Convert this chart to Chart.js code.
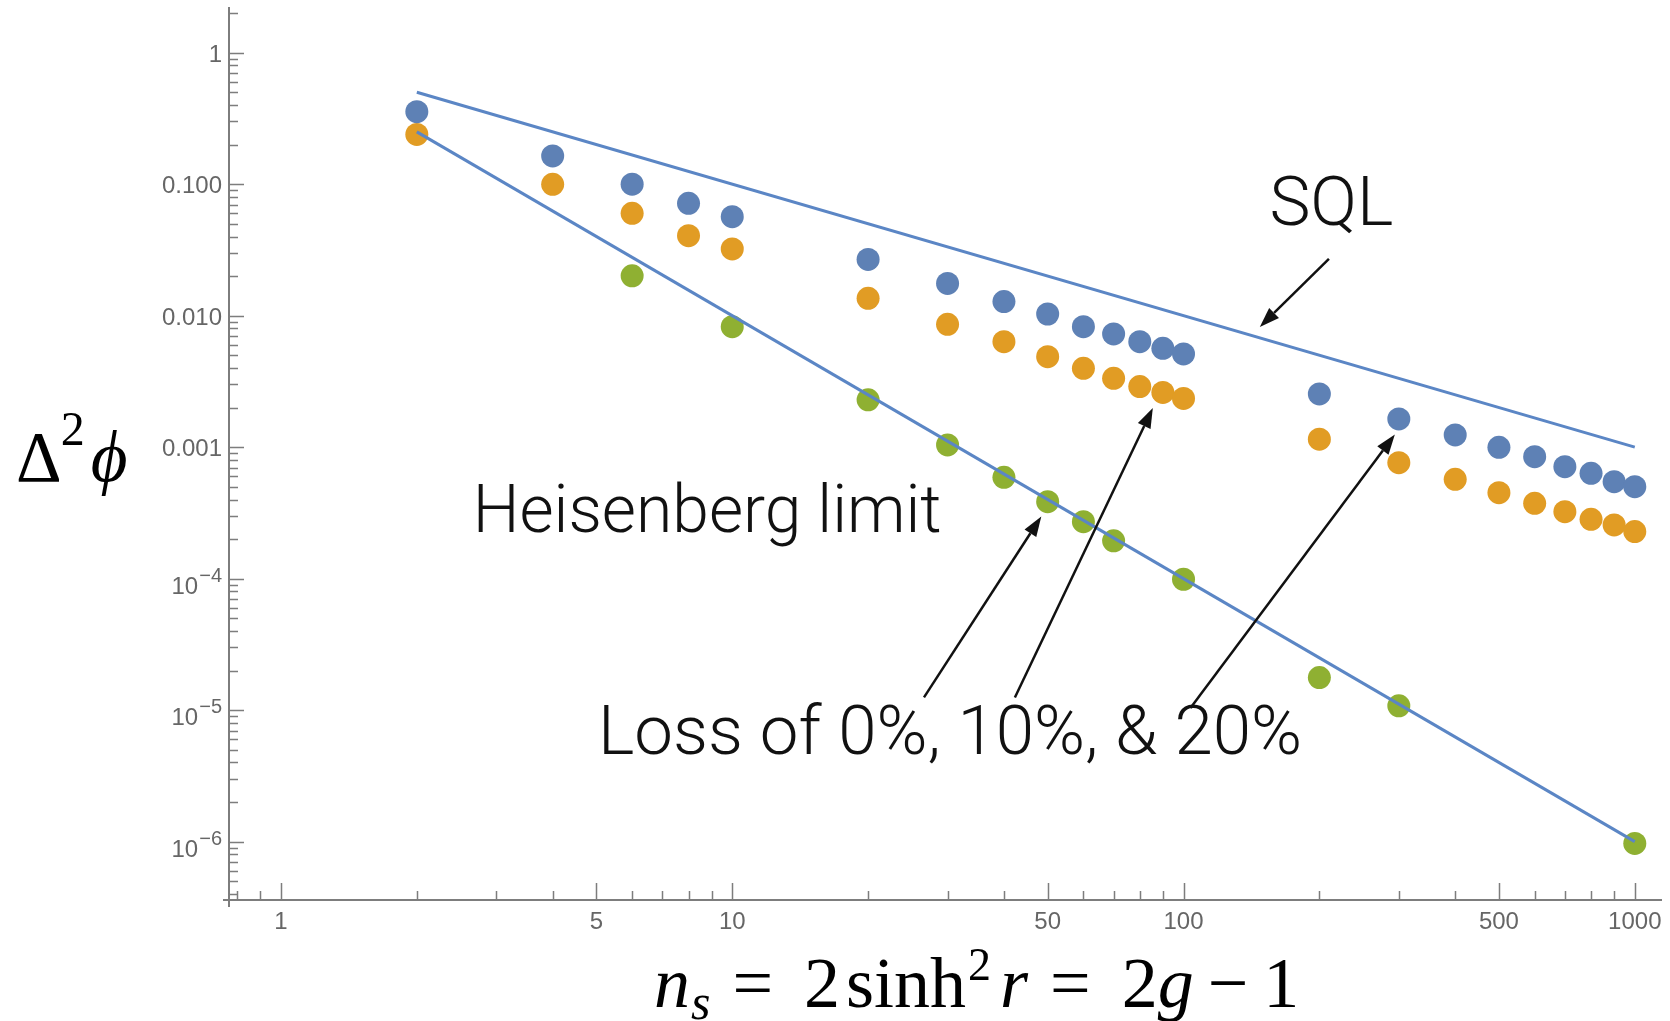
<!DOCTYPE html>
<html>
<head>
<meta charset="utf-8">
<title>Phase sensitivity vs squeezing</title>
<script src="https://cdn.jsdelivr.net/npm/chart.js@4.4.1/dist/chart.umd.min.js"></script>
<style>
  html, body { margin: 0; padding: 0; background: #fff; }
  #chart { display: block; }
</style>
</head>
<body>
<canvas id="chart" width="1670" height="1021"></canvas>
<script>
// photon number n_s for the lossy runs
let nLossy = [2, 4, 6, 8, 10, 20, 30, 40, 50, 60, 70, 80, 90, 100, 200, 300, 400, 500, 600, 700, 800, 900, 1000]
let loss20 = [0.356, 0.164, 0.100, 0.0716, 0.0566, 0.0268, 0.0176, 0.0128, 0.0103, 0.00825, 0.00726, 0.00634, 0.00565, 0.00512,
              0.00254, 0.00164, 0.00124, 0.000998, 0.000847, 0.000711, 0.000633, 0.000547, 0.000501]
let loss10 = [0.239, 0.0998, 0.0601, 0.0406, 0.0322, 0.01356, 0.0086, 0.00634, 0.00488, 0.00398, 0.00334, 0.00289, 0.00261, 0.00235,
              0.00115, 0.000762, 0.00057, 0.000451, 0.000374, 0.000323, 0.000283, 0.000256, 0.000228]
// lossless run only sampled at some n
let nLossless = [6, 10, 20, 30, 40, 50, 60, 70, 100, 200, 300, 1000]
let loss0 = [0.0201, 0.00825, 0.00229, 0.00104, 0.00059, 0.000385, 0.000271, 0.000194, 0.000099, 0.0000177, 0.0000108, 0.00000097]
// reference limits, 1/n and 1/n^2
let nLimit = [2, 1000]
let sqlLimit = [0.5, 0.001]
let heisenbergLimit = [0.25, 0.000001]

let xTicks = [1, 5, 10, 50, 100, 500, 1000]
let xTickLabels = ['1', '5', '10', '50', '100', '500', '1000']
let yTicks = [1, 0.1, 0.01, 0.001, 1e-4, 1e-5, 1e-6]
let yTickLabels = ['1', '0.100', '0.010', '0.001', '10', '10', '10']
let yTickPowers = ['', '', '', '', '−4', '−5', '−6']

// text notes and arrows, in data coordinates [n, value]
let notes = [
  { text: 'SQL', at: [155, 0.0492], size: 69 },
  { text: 'Heisenberg limit', at: [2.66, 2.25e-4], size: 66 },
  { text: 'Loss of 0%, 10%, & 20%', at: [5.04, 4.64e-6], size: 69 }
]
let arrows = [
  { from: [210, 0.027], to: [147.6, 0.0082] },
  { from: [26.6, 1.25e-5], to: [48.4, 2.97e-4] },
  { from: [42.3, 1.25e-5], to: [85.5, 0.00199] },
  { from: [103.6, 1.04e-5], to: [294, 0.00125] }
]

let blue = '#5e81b5', orange = '#e19c24', green = '#8fb032', lineBlue = '#5b86c5'
let axisGray = '#7d7d7d', labelGray = '#666'
let noteFamily = 'Roboto, "Liberation Sans", sans-serif'
let sans = '"Liberation Sans", Arial, sans-serif'
let serif = '"Liberation Serif", "DejaVu Serif", serif'

function pairs(xs, ys) {
  return xs.map((x, i) => ({ x: x, y: ys[i] }))
}

function minorTicks(min, max) {
  let out = []
  for (let e = -8; e <= 4; e++) {
    for (let k = 2; k <= 9; k++) {
      let v = k * Math.pow(10, e)
      if (v >= min && v <= max) out.push(v)
    }
  }
  return out
}

// runs of text with their own font, offset and extra gap before them
function drawRuns(ctx, x, y, runs) {
  runs.forEach(r => {
    x += r.gap || 0
    ctx.font = r.font
    ctx.fillText(r.text, x, y + (r.dy || 0))
    x += ctx.measureText(r.text).width
  })
}

function arrow(ctx, x1, y1, x2, y2) {
  let a = Math.atan2(y2 - y1, x2 - x1)
  let head = 20, half = 7
  let bx = x2 - head * Math.cos(a), by = y2 - head * Math.sin(a)
  ctx.beginPath()
  ctx.moveTo(x1, y1)
  ctx.lineTo(bx, by)
  ctx.stroke()
  ctx.beginPath()
  ctx.moveTo(x2, y2)
  ctx.lineTo(bx + half * Math.sin(a), by - half * Math.cos(a))
  ctx.lineTo(bx - half * Math.sin(a), by + half * Math.cos(a))
  ctx.closePath()
  ctx.fill()
}

// Mathematica-like axes: lines crossing at the corner, ticks pointing inward
let frameAxes = {
  id: 'frameAxes',
  beforeDatasetsDraw(chart) {
    let ctx = chart.ctx, area = chart.chartArea
    let sx = chart.scales.x, sy = chart.scales.y
    ctx.save()
    ctx.strokeStyle = axisGray
    ctx.lineWidth = 2
    ctx.beginPath()
    ctx.moveTo(area.left - 6, area.bottom)
    ctx.lineTo(area.right, area.bottom)
    ctx.moveTo(area.left, area.top)
    ctx.lineTo(area.left, area.bottom + 7)
    ctx.stroke()
    ctx.lineWidth = 1.5
    ctx.beginPath()
    let xMinor = minorTicks(sx.min, sx.max).filter(v => xTicks.indexOf(v) < 0)
    xMinor.forEach(v => {
      let p = Math.round(sx.getPixelForValue(v)) + 0.5
      ctx.moveTo(p, area.bottom)
      ctx.lineTo(p, area.bottom - 9)
    })
    xTicks.forEach(v => {
      let p = Math.round(sx.getPixelForValue(v)) + 0.5
      ctx.moveTo(p, area.bottom)
      ctx.lineTo(p, area.bottom - 17)
    })
    minorTicks(sy.min, sy.max).forEach(v => {
      let p = Math.round(sy.getPixelForValue(v)) + 0.5
      ctx.moveTo(area.left, p)
      ctx.lineTo(area.left + 9, p)
    })
    yTicks.forEach(v => {
      let p = Math.round(sy.getPixelForValue(v)) + 0.5
      ctx.moveTo(area.left, p)
      ctx.lineTo(area.left + 15, p)
    })
    ctx.stroke()

    // y tick labels, powers of ten get a real superscript
    ctx.fillStyle = labelGray
    ctx.textAlign = 'right'
    ctx.textBaseline = 'alphabetic'
    let right = area.left - 7
    yTicks.forEach((v, i) => {
      let p = sy.getPixelForValue(v)
      if (yTickPowers[i]) {
        ctx.font = '20px ' + sans
        ctx.fillText(yTickPowers[i], right, p + 3)
        let w = ctx.measureText(yTickPowers[i]).width
        ctx.font = '24px ' + sans
        ctx.fillText(yTickLabels[i], right - w - 1, p + 15)
      } else {
        ctx.font = '24px ' + sans
        ctx.fillText(yTickLabels[i], right, p + 9)
      }
    })
    ctx.restore()
  }
}

let notesPlugin = {
  id: 'notes',
  afterDatasetsDraw(chart) {
    let ctx = chart.ctx
    let sx = chart.scales.x, sy = chart.scales.y
    ctx.save()
    ctx.fillStyle = '#111'
    ctx.strokeStyle = '#111'
    ctx.lineWidth = 2.5
    ctx.textBaseline = 'alphabetic'
    notes.forEach(n => {
      ctx.font = '300 ' + n.size + 'px ' + noteFamily
      ctx.fillText(n.text, sx.getPixelForValue(n.at[0]), sy.getPixelForValue(n.at[1]))
    })
    arrows.forEach(a => {
      arrow(ctx, sx.getPixelForValue(a.from[0]), sy.getPixelForValue(a.from[1]),
                 sx.getPixelForValue(a.to[0]), sy.getPixelForValue(a.to[1]))
    })

    // axis titles
    ctx.fillStyle = '#000'
    let rm = '72px ' + serif, it = 'italic 72px ' + serif
    let rmSmall = '46px ' + serif, itSmall = 'italic 50px ' + serif
    drawRuns(ctx, 16, 481, [
      { text: 'Δ', font: '71px ' + serif },
      { text: '2', font: '48px ' + serif, dy: -36, gap: -1 },
      { text: 'ϕ', font: 'italic 71px ' + serif, gap: 6 }
    ])
    drawRuns(ctx, 654, 1007, [
      { text: 'n', font: it },
      { text: 's', font: itSmall, dy: 12, gap: 1 },
      { text: '=', font: rm, gap: 22 },
      { text: '2', font: rm, gap: 31 },
      { text: 'sinh', font: rm, gap: 6 },
      { text: '2', font: rmSmall, dy: -27, gap: 2 },
      { text: 'r', font: it, gap: 9 },
      { text: '=', font: rm, gap: 22 },
      { text: '2', font: rm, gap: 31 },
      { text: 'g', font: it },
      { text: '−', font: rm, gap: 14 },
      { text: '1', font: rm, gap: 15 }
    ])
    ctx.restore()
  }
}

new Chart(document.getElementById('chart'), {
  type: 'scatter',
  data: {
    datasets: [
      { label: 'SQL', data: pairs(nLimit, sqlLimit), showLine: true, borderColor: lineBlue, borderWidth: 3, pointRadius: 0, order: 0 },
      { label: 'Heisenberg limit', data: pairs(nLimit, heisenbergLimit), showLine: true, borderColor: lineBlue, borderWidth: 3, pointRadius: 0, order: 0 },
      { label: 'Loss 20%', data: pairs(nLossy, loss20), backgroundColor: blue, borderWidth: 0, pointRadius: 11.5, order: 1 },
      { label: 'Loss 10%', data: pairs(nLossy, loss10), backgroundColor: orange, borderWidth: 0, pointRadius: 11.5, order: 1 },
      { label: 'Loss 0%', data: pairs(nLossless, loss0), backgroundColor: green, borderWidth: 0, pointRadius: 11.5, order: 1 }
    ]
  },
  options: {
    responsive: false,
    animation: false,
    layout: { autoPadding: false, padding: { top: 7, right: 8, bottom: 0, left: 0 } },
    plugins: {
      legend: { display: false },
      tooltip: { enabled: false }
    },
    scales: {
      x: {
        type: 'logarithmic',
        min: 0.767,
        max: 1149,
        grid: { display: false, drawTicks: false },
        border: { display: false },
        afterBuildTicks: s => { s.ticks = xTicks.map(v => ({ value: v })) },
        afterFit: s => { s.height = 121; s.paddingLeft = 0; s.paddingRight = 0 },
        ticks: {
          autoSkip: false, maxRotation: 0, padding: 8,
          font: { family: sans, size: 24 }, color: labelGray,
          callback: (v, i) => xTickLabels[i]
        }
      },
      y: {
        type: 'logarithmic',
        min: 3.6e-7,
        max: 2.226,
        grid: { display: false, drawTicks: false },
        border: { display: false },
        afterBuildTicks: s => { s.ticks = yTicks.map(v => ({ value: v })) },
        afterFit: s => { s.width = 229; s.paddingTop = 0; s.paddingBottom = 0 },
        ticks: { display: false }
      }
    }
  },
  plugins: [frameAxes, notesPlugin]
})
</script>
</body>
</html>
